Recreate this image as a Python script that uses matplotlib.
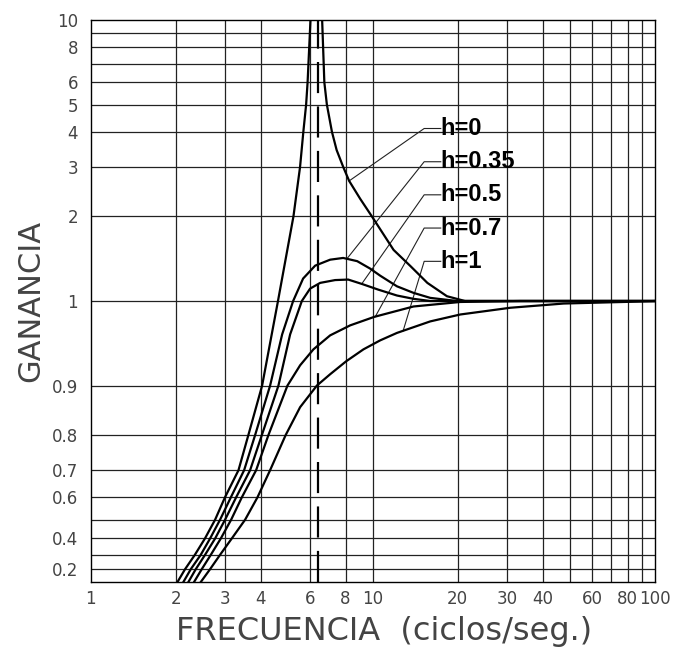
import numpy as np
import matplotlib
matplotlib.use("Agg")
import matplotlib.pyplot as plt
from matplotlib.ticker import FixedLocator, NullLocator

# curves (frequency in ciclos/seg, gain)
h0_x = [2.03, 2.16, 2.34, 2.54, 2.76, 2.99, 3.34, 3.62, 4.05, 4.61, 5.23, 5.52, 5.67, 5.80, 5.87, 6.01,
        6.3, 6.61, 6.73, 6.87, 7.16, 7.44, 7.85, 8.24, 9.02, 9.92, 11.84, 13.6, 15.6, 18.3, 21.2, 100]
h0_y = [0.1, 0.2, 0.3, 0.4, 0.5, 0.6, 0.7, 0.8, 0.9, 1.0, 2.0, 3.0, 4.0, 5.0, 6.0, 10,
        np.nan, 10, 6.0, 5.0, 4.0, 3.445, 3.0, 2.675, 2.309, 2.0, 1.52, 1.33, 1.16, 1.04, 1.0, 1.0]
h035_x = [2.13, 2.263, 2.455, 2.649, 2.874, 3.137, 3.497, 3.825, 4.323, 4.769, 5.217, 5.659, 6.244,
          7.058, 7.847, 8.799, 9.781, 10.61, 12.17, 13.93, 15.97, 19.86, 100]
h035_y = [0.1, 0.2, 0.3, 0.4, 0.5, 0.6, 0.7, 0.8, 0.9, 0.9685, 1.0, 1.202, 1.336,
          1.403, 1.423, 1.386, 1.304, 1.231, 1.128, 1.069, 1.026, 1.0, 1.0]
h05_x = [2.219, 2.357, 2.543, 2.760, 2.994, 3.275, 3.672, 4.041, 4.627, 5.090, 5.601, 5.993, 6.504,
         7.350, 8.176, 9.165, 10.44, 12.17, 13.93, 15.97, 100]
h05_y = [0.1, 0.2, 0.3, 0.4, 0.5, 0.6, 0.7, 0.8, 0.9, 0.9685, 1.0, 1.107, 1.160,
         1.187, 1.192, 1.149, 1.098, 1.046, 1.018, 1.0, 1.0]
h07_x = [2.324, 2.475, 2.665, 2.891, 3.146, 3.431, 3.857, 4.264, 4.980, 5.524, 6.157, 7.058, 8.309,
         10.11, 13.93, 20.40, 33.29, 100]
h07_y = [0.1, 0.2, 0.3, 0.4, 0.5, 0.6, 0.7, 0.8, 0.9, 0.9307, 0.9514, 0.9675, 0.9779,
         0.9861, 0.9954, 0.9992, 1.0, 1.0]
h1_x = [2.455, 2.649, 2.874, 3.162, 3.526, 3.898, 4.323, 4.908, 5.524, 6.331, 7.058, 8.040, 9.262,
        10.61, 12.17, 15.97, 20.40, 30.69, 47.42, 81.7, 100]
h1_y = [0.1, 0.2, 0.3, 0.4, 0.5, 0.6, 0.7, 0.8, 0.8614, 0.9, 0.9178, 0.9361, 0.9514,
        0.9619, 0.9701, 0.9818, 0.9883, 0.9943, 0.9979, 0.99935, 1.0]

curvas = [(h0_x, h0_y), (h035_x, h035_y), (h05_x, h05_y), (h07_x, h07_y), (h1_x, h1_y)]
etiquetas = ["h=0", "h=0.35", "h=0.5", "h=0.7", "h=1"]
anclas = [8.24, 8.09, 9.13, 10.2, 12.8]         # where each leader touches its curve
etiq_y = [4.11, 3.13, 2.387, 1.818, 1.384]      # label heights
frec_natural = 6.4

x_grid = [2, 3, 4, 6, 8, 10, 20, 30, 40, 50, 60, 70, 80, 90]
x_ticks = [1, 2, 3, 4, 6, 8, 10, 20, 30, 40, 60, 80, 100]
y_grid = [0.2, 0.3, 0.4, 0.5, 0.6, 0.7, 0.8, 0.9, 1, 2, 3, 4, 5, 6, 7, 8, 9]
y_ticks = [0.2, 0.4, 0.6, 0.7, 0.8, 0.9, 1, 2, 3, 4, 5, 6, 8, 10]


# upper half is log, lower half is the mirror image of it
def fwd(y):
    y = np.asarray(y, float)
    lo = np.minimum(y, 1.0)
    hi = np.maximum(y, 1.0)
    with np.errstate(all="ignore"):
        return np.where(y >= 1, np.log10(hi), -np.log10(11 - 10 * lo))


def inv(t):
    t = np.asarray(t, float)
    return np.where(t >= 0, 10 ** np.maximum(t, 0), (11 - 10 ** (-np.minimum(t, 0))) / 10)


fig = plt.figure(figsize=(6.75, 6.53), dpi=100)
ax = fig.add_axes([0.1344, 0.1087, 0.836, 0.8607])
ax.set_xscale("log")
ax.set_yscale("function", functions=(fwd, inv))
ax.set_xlim(1, 100)
ax.set_ylim(0.1, 10)

for g in x_grid:
    ax.axvline(g, color="#222", lw=0.9, zorder=1)
for g in y_grid:
    ax.axhline(g, color="#222", lw=0.9, zorder=1)

for xs, ys in curvas:
    ax.plot(xs, ys, color="black", lw=1.6, zorder=3, solid_joinstyle="round")

ax.axvline(frec_natural, color="black", lw=1.6, dashes=(14, 6), zorder=3)

# labels with leader lines
x_codo = 15.2
x_txt = 17.4
for (xs, ys), lab, xa, yl in zip(curvas, etiquetas, anclas, etiq_y):
    ya = np.interp(np.log10(xa), np.log10(xs), ys)
    ax.plot([xa, x_codo, x_txt], [ya, yl, yl], color="#222", lw=0.8, zorder=2)
    ax.text(x_txt, yl, lab, ha="left", va="center", fontsize=17, fontweight="bold",
            family="Liberation Sans", zorder=4)

ax.xaxis.set_major_locator(FixedLocator(x_ticks))
ax.xaxis.set_minor_locator(NullLocator())
ax.set_xticklabels([str(v) for v in x_ticks])
ax.yaxis.set_major_locator(FixedLocator(y_ticks))
ax.yaxis.set_minor_locator(NullLocator())
ax.set_yticklabels([str(v) for v in y_ticks])
ax.tick_params(axis="both", length=0, labelsize=12, labelcolor="#444")
ax.tick_params(axis="x", pad=6)
ax.tick_params(axis="y", pad=9)
for s in ax.spines.values():
    s.set_linewidth(1.0)

ax.set_xlabel("FRECUENCIA  (ciclos/seg.)", fontsize=23, color="#444")
ax.set_ylabel("GANANCIA", fontsize=22, color="#444")
ax.xaxis.set_label_coords(0.52, -0.06)
ax.yaxis.set_label_coords(-0.081, 0.5)

fig.savefig("out.png", dpi=100)
